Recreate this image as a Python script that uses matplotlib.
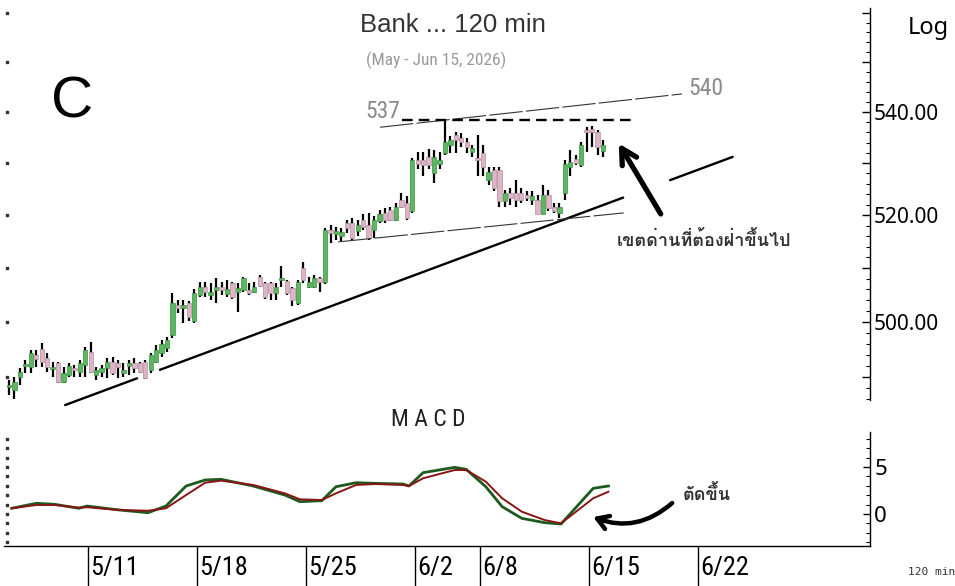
import numpy as np
import matplotlib
matplotlib.use("Agg")
import matplotlib.pyplot as plt
from matplotlib import font_manager as fm
from matplotlib.ft2font import FT2Font
from matplotlib.ticker import FixedLocator, FixedFormatter, NullFormatter
from matplotlib.transforms import blended_transform_factory

# ---- 120-minute candles (4 bars per trading day) ----
opens = [488.2, 487.7, 490.1, 492.0, 491.9, 493.9, 495.0, 493.4, 491.4, 492.5,
         489.2, 490.4, 491.6, 491.0, 492.2, 494.6, 490.4, 491.0, 491.6, 492.8,
         492.5, 490.7, 492.0, 492.5, 492.5, 492.8, 491.3, 492.8, 494.3, 495.2,
         497.6, 503.1, 502.5, 503.5, 500.1, 504.9, 506.5, 504.9, 505.9, 506.5,
         505.1, 507.2, 505.6, 505.9, 505.9, 505.6, 508.4, 507.2, 507.2, 505.3,
         507.7, 507.5, 506.2, 503.5, 509.9, 506.5, 506.5, 508.1, 507.4, 517.2,
         516.3, 516.0, 518.5, 518.5, 516.9, 519.1, 518.1, 517.2, 518.8, 520.4,
         521.0, 519.1, 522.9, 522.2, 520.7, 530.6, 530.6, 531.2, 528.0, 529.9,
         532.0, 533.6, 535.5, 534.8, 534.2, 532.2, 530.9, 532.0, 526.7, 528.6,
         528.6, 522.6, 524.2, 524.2, 524.2, 523.9, 522.9, 522.9, 520.1, 523.9,
         521.6, 520.4, 524.2, 529.3, 530.7, 529.6, 536.5, 536.7, 536.1, 532.3]
highs = [489.5, 490.0, 491.7, 493.1, 494.9, 494.9, 496.2, 494.3, 492.8, 492.8,
         491.9, 492.5, 492.2, 493.1, 495.5, 496.4, 491.9, 492.2, 493.4, 493.7,
         493.1, 492.5, 493.1, 493.4, 492.8, 493.1, 494.3, 495.8, 496.7, 497.3,
         505.3, 504.1, 504.1, 503.8, 506.0, 507.4, 507.4, 507.2, 508.1, 507.4,
         507.8, 507.4, 507.2, 508.4, 507.2, 507.4, 508.7, 507.4, 507.4, 507.2,
         510.3, 507.8, 506.5, 507.8, 511.2, 508.4, 508.7, 508.4, 517.5, 518.1,
         517.8, 517.6, 519.1, 519.4, 519.1, 520.1, 520.4, 519.8, 521.0, 521.3,
         521.6, 522.2, 524.2, 523.6, 530.9, 532.2, 532.2, 532.8, 532.5, 532.2,
         538.4, 535.2, 536.1, 535.8, 534.8, 533.6, 535.5, 533.6, 529.2, 529.2,
         529.2, 524.8, 525.1, 526.7, 525.1, 524.5, 524.5, 523.9, 525.8, 524.8,
         522.2, 522.2, 530.6, 532.5, 531.6, 534.2, 537.0, 537.2, 536.5, 534.4]
lows = [486.8, 486.0, 488.6, 490.8, 490.8, 491.9, 491.9, 491.0, 490.1, 488.9,
        488.9, 490.1, 490.1, 490.1, 490.1, 490.7, 489.5, 490.1, 489.8, 490.4,
        489.8, 490.1, 490.4, 490.7, 490.7, 489.6, 490.7, 492.5, 493.7, 494.6,
        497.0, 501.6, 499.8, 500.1, 499.8, 504.6, 504.6, 504.1, 503.5, 505.0,
        504.6, 504.3, 501.9, 505.6, 505.0, 505.3, 506.5, 504.3, 504.1, 504.1,
        506.5, 505.0, 502.9, 503.1, 507.2, 506.2, 506.2, 505.6, 507.0, 514.7,
        515.3, 515.0, 516.6, 515.0, 516.0, 517.2, 515.3, 515.6, 518.5, 518.5,
        518.8, 518.8, 521.3, 519.1, 520.4, 528.9, 527.5, 528.9, 526.1, 528.9,
        531.5, 532.0, 532.0, 533.1, 532.0, 531.2, 527.5, 527.5, 525.8, 524.5,
        521.6, 521.6, 521.9, 521.6, 522.2, 522.6, 521.9, 520.1, 520.1, 520.7,
        520.4, 519.4, 522.9, 527.5, 529.6, 529.2, 532.2, 533.1, 531.5, 531.2]
closes = [488.4, 489.2, 491.0, 492.3, 494.3, 493.3, 492.8, 491.9, 491.9, 489.2,
          490.7, 492.0, 491.3, 492.5, 494.9, 491.0, 491.3, 491.6, 492.8, 490.7,
          491.9, 491.3, 492.5, 491.6, 491.0, 489.8, 493.9, 494.9, 496.0, 496.7,
          503.5, 502.5, 503.1, 501.0, 505.3, 506.5, 505.6, 505.6, 506.5, 505.9,
          506.0, 504.6, 506.2, 508.1, 505.3, 506.5, 506.7, 504.6, 505.3, 506.5,
          508.1, 505.4, 504.1, 507.4, 507.8, 507.4, 508.1, 507.4, 517.2, 516.6,
          516.9, 516.8, 517.6, 515.6, 518.1, 517.8, 515.6, 519.1, 520.1, 519.1,
          519.1, 521.6, 521.6, 519.4, 530.6, 529.9, 529.6, 529.6, 531.2, 530.6,
          534.2, 534.4, 534.5, 534.2, 533.2, 532.9, 530.6, 529.2, 528.3, 525.2,
          522.6, 524.2, 523.2, 522.9, 522.9, 523.2, 523.6, 520.1, 523.9, 521.3,
          520.7, 521.6, 529.9, 530.3, 530.0, 533.6, 536.0, 536.1, 533.2, 533.6]

# day separators (bar index) and their labels
day_ticks = [14.5, 34.5, 54.5, 74.5, 86.5, 106.5, 126.5]
day_labels = ['5/11', '5/18', '5/25', '6/2', '6/8', '6/15', '6/22']

# MACD / signal, sampled along the bar index
macd_x = [0.5, 5, 8.4, 12.8, 14.3, 20.2, 25.5, 28.8, 32.5, 36, 38.9, 44.8, 50.6,
          53.4, 57.4, 60, 63.7, 67.2, 72.3, 73.4, 76, 81.8, 83.9, 87.5, 90.5,
          94.1, 98.3, 101.3, 107.2, 110]
macd = [0.61, 1.14, 1.03, 0.61, 0.85, 0.43, 0.14, 0.85, 2.98, 3.62, 3.69, 2.98,
        2.02, 1.31, 1.42, 2.9, 3.33, 3.26, 3.19, 2.98, 4.4, 4.96, 4.75, 2.9,
        0.78, -0.46, -0.92, -1.06, 2.73, 2.98]
signal = [0.61, 0.96, 0.96, 0.68, 0.72, 0.43, 0.35, 0.61, 2.02, 3.33, 3.55,
          3.09, 2.2, 1.56, 1.49, 2.2, 3.09, 3.19, 3.09, 2.98, 3.8, 4.68, 4.68,
          3.44, 1.67, 0.25, -0.64, -0.99, 1.67, 2.37]

# hand drawn lines: (bar index, price)
trend_a, trend_b = (10.3, 485.0), (132.8, 531.2)
trend_pieces = [(10.3, 23.5), (27.7, 112.7), (121.3, 132.8)]
upper_thin = ([68.1, 123.5], [537.0, 543.6])
lower_thin = ([60.4, 112.8], [514.9, 520.4])
resist_x, resist_y = [72.1, 114.9], 538.4


# ---- fonts ----
names = {f.name for f in fm.fontManager.ttflist}


def pick(*cands):
    for c in cands:
        if c in names:
            return c
    return 'DejaVu Sans'


def thai_font():
    paths = [f.fname for f in fm.fontManager.ttflist] + fm.findSystemFonts()
    for p in paths:
        try:
            cmap = FT2Font(p).get_charmap()
        except Exception:
            continue
        if 0x0E40 in cmap and 0x0E14 in cmap:
            return fm.FontProperties(fname=p)
    return fm.FontProperties(family='DejaVu Sans')


narrow = pick('Liberation Sans Narrow', 'Roboto Condensed', 'Liberation Sans')
sans = pick('Liberation Sans', 'Arial')
ui = pick('Noto Sans', 'Open Sans')
thai = thai_font()
nscale = 1.0 if 'Narrow' in narrow or 'Condensed' in narrow else 0.8

fig = plt.figure(figsize=(9.55, 5.86), dpi=100)
L, R = 4 / 955, 870 / 955
ax = fig.add_axes([L, 1 - 400 / 586, R - L, 392 / 586])
ax2 = fig.add_axes([L, 1 - 546 / 586, R - L, 114 / 586], sharex=ax)

# candles
idx = np.arange(len(closes))
o, h, l, c = map(np.array, (opens, highs, lows, closes))
up = c >= o
ax.vlines(idx, l, h, color='black', lw=1.6, zorder=2)
body = np.maximum(np.abs(c - o), 0.35)
ax.bar(idx[up], body[up], bottom=o[up], width=0.8, color='#5cb860',
       edgecolor='#3f8f45', lw=0.5, zorder=3)
ax.bar(idx[~up], body[~up], bottom=c[~up], width=0.8, color='#dcb6c6',
       edgecolor='#b88ea0', lw=0.5, zorder=3)

ax.set_yscale('log')
ax.set_ylim(485.9, 561.0)
ax.set_xlim(-0.92, 158.0)


def on_trend(x):
    t = (x - trend_a[0]) / (trend_b[0] - trend_a[0])
    return trend_a[1] * (trend_b[1] / trend_a[1]) ** t


for x0, x1 in trend_pieces:
    ax.plot([x0, x1], [on_trend(x0), on_trend(x1)], color='black', lw=1.7,
            solid_capstyle='round', zorder=4, clip_on=False)

ax.plot(*upper_thin, color='#333333', lw=0.8, ls=(0, (30, 3)), zorder=4)
ax.plot(*lower_thin, color='#333333', lw=0.8, ls=(0, (30, 3)), zorder=4)
ax.plot(resist_x, [resist_y, resist_y], color='black', lw=1.7,
        ls=(0, (4.5, 2.6)), zorder=4)

ax.text(68.6, 540.2, '537', color='#8a8a8a', fontsize=17 * nscale,
        family=narrow, ha='center', va='center')
ax.text(127.9, 544.6, '540', color='#8a8a8a', fontsize=17 * nscale,
        family=narrow, ha='center', va='center')

ax.annotate('', xy=(111.9, 533.8), xytext=(119.6, 520.2),
            arrowprops=dict(arrowstyle='->,head_length=1.1,head_width=0.6',
                            lw=3.8, color='black', shrinkA=0, shrinkB=0))
ax.text(127.5, 515.2, 'เขตด่านที่ต้องฝ่าขึ้นไป', fontproperties=thai,
        fontsize=13, color='#333333', ha='center', va='center')

# upper axis styling
for s in ('top', 'left', 'bottom'):
    ax.spines[s].set_visible(False)
ax.spines['right'].set_linewidth(1.0)
ax.tick_params(axis='x', bottom=False, labelbottom=False)
ax.yaxis.set_ticks_position('right')
ax.yaxis.set_major_locator(FixedLocator([490, 500, 510, 520, 530, 540, 550, 560]))
ax.yaxis.set_major_formatter(FixedFormatter(['', '500.00', '', '520.00', '',
                                             '540.00', '', '']))
ax.yaxis.set_minor_locator(FixedLocator(np.arange(486, 562, 2)))
ax.yaxis.set_minor_formatter(NullFormatter())
ax.tick_params(axis='y', which='major', direction='in', length=6, width=1,
               pad=3, labelsize=15)
ax.tick_params(axis='y', which='minor', direction='in', length=3, width=0.8)
for t in ax.get_yticklabels():
    t.set_family(ui)
left_tr = blended_transform_factory(ax.transAxes, ax.transData)
ax.scatter(np.full(8, 0.004), [490, 500, 510, 520, 530, 540, 550, 560],
           s=2, marker='s', color='#333333', transform=left_tr, clip_on=False)

# MACD panel
ax2.plot(macd_x, macd, color='#1d5a1d', lw=2.0, zorder=3)
ax2.plot(macd_x, signal, color='#8a1414', lw=1.4, zorder=4)
ax2.set_ylim(-3.4, 8.72)
for s in ('top', 'left'):
    ax2.spines[s].set_visible(False)
ax2.spines['right'].set_linewidth(1.0)
ax2.spines['bottom'].set_linewidth(1.0)
ax2.yaxis.set_ticks_position('right')
ax2.yaxis.set_major_locator(FixedLocator([0, 5]))
ax2.yaxis.set_minor_locator(FixedLocator(np.arange(-3, 9, 1)))
ax2.tick_params(axis='y', which='major', direction='in', length=5, width=1,
                pad=3, labelsize=16)
ax2.tick_params(axis='y', which='minor', direction='in', length=3, width=0.8)
for t in ax2.get_yticklabels():
    t.set_family(ui)
left_tr2 = blended_transform_factory(ax2.transAxes, ax2.transData)
ax2.scatter(np.full(12, 0.004), np.arange(-3, 9, 1), s=2, marker='s',
            color='#333333', transform=left_tr2, clip_on=False)

ax2.set_xticks(day_ticks)
ax2.tick_params(axis='x', direction='out', length=29, width=1,
                labelbottom=False)
for pos, lab in zip(day_ticks, day_labels):
    ax2.annotate(lab, xy=(pos, 0), xycoords=('data', 'axes fraction'),
                 xytext=(1.5, -16), textcoords='offset points', ha='left',
                 va='center', fontsize=19 * nscale, family=narrow)

ax2.annotate('', xy=(107.2, -0.32), xytext=(121.7, 1.17),
             arrowprops=dict(arrowstyle='->,head_length=0.8,head_width=0.5',
                             lw=3.2, color='black', shrinkA=0, shrinkB=0,
                             connectionstyle='arc3,rad=-0.3'))
ax2.text(128.0, 2.1, 'ตัดขึ้น', fontproperties=thai, fontsize=13,
         color='#333333', ha='center', va='center')

# figure texts
fig.text(453 / 955, 1 - 25 / 586, 'Bank ... 120 min', family=sans,
         fontsize=18.5, color='#333333', ha='center', va='center')
fig.text(436 / 955, 1 - 60 / 586, '(May - Jun 15, 2026)', family=narrow,
         fontsize=12.5 * nscale, color='#999999', ha='center', va='center')
fig.text(72 / 955, 1 - 102 / 586, 'C', family=sans, fontsize=42,
         color='black', ha='center', va='center')
fig.text(928 / 955, 1 - 28 / 586, 'Log', family=ui, fontsize=17,
         color='black', ha='center', va='center')
fig.text(428 / 955, 1 - 420 / 586, 'M A C D', family=narrow,
         fontsize=17 * nscale, color='#222222', ha='center', va='center')
fig.text(908 / 955, 1 - 572 / 586, '120 min', family='DejaVu Sans Mono',
         fontsize=8, color='#333333', ha='left', va='center')

fig.savefig('out.png', dpi=100)
